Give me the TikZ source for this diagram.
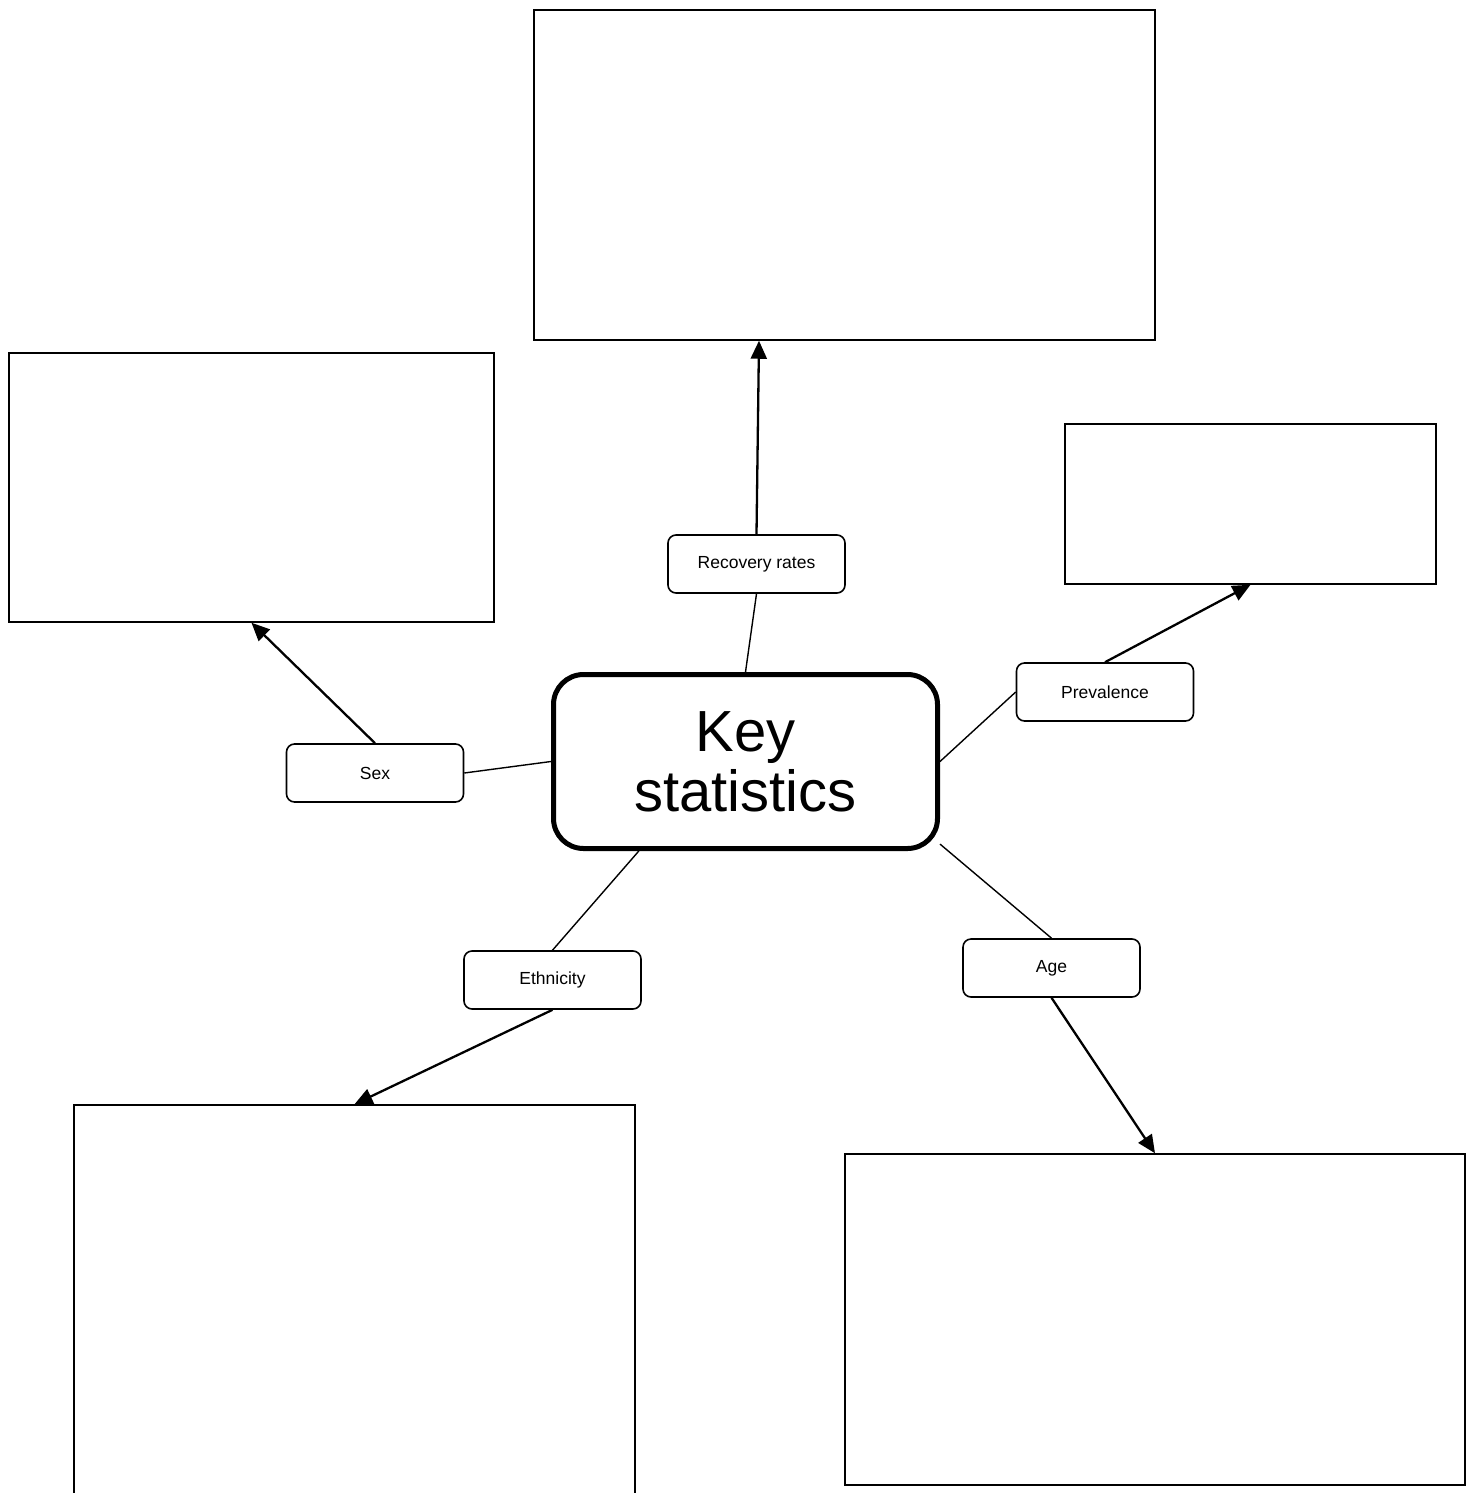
\documentclass[tikz,border=0pt]{standalone}
\usepackage{fontspec}
\setmainfont{Liberation Sans}
\usetikzlibrary{arrows.meta,calc}
\begin{document}
\begin{tikzpicture}[x=1pt,y=-1pt,
  bigbox/.style={draw,line width=1.5pt,rectangle,inner sep=0pt},
  keybox/.style={draw,line width=5pt,rectangle,rounded corners=30pt,inner sep=0pt,
    minimum width=384pt,minimum height=174pt,align=center,
    font=\fontsize{58}{60}\selectfont},
  lblbox/.style={draw,line width=1.6pt,rectangle,rounded corners=8pt,inner sep=0pt,
    minimum width=177pt,minimum height=58pt,font=\fontsize{17.5}{19}\selectfont},
  thin/.style={line width=1.4pt},
  arr/.style={line width=2.3pt,-{Triangle[length=18pt,width=16pt]}}]
\clip (0,0) rectangle (1472,1493);
\fill[white] (0,0) rectangle (1472,1493);
% outer boxes
\node[bigbox,minimum width=621pt,minimum height=330pt] (top) at (844.5,175) {};
\node[bigbox,minimum width=485pt,minimum height=269pt] (left) at (251.5,487.5) {};
\node[bigbox,minimum width=371pt,minimum height=160pt] (prevbox) at (1250.5,504) {};
\node[bigbox,minimum width=561pt,minimum height=410pt] (bl) at (354.5,1310) {};
\node[bigbox,minimum width=620pt,minimum height=331pt] (br) at (1155,1319.5) {};
% centre
\node[keybox] (key) at (745.5,761.5) {Key\\statistics};
% labels
\node[lblbox] (rec) at (756.5,564) {Recovery rates};
\node[lblbox] (prev) at (1105,692) {Prevalence};
\node[lblbox] (sex) at (375,773) {Sex};
\node[lblbox] (eth) at (552.5,980) {Ethnicity};
\node[lblbox] (age) at (1051.5,968) {Age};
% thin connectors
\draw[thin] (key.north) -- (rec.south);
\draw[thin] (key.east) -- (prev.west);
\draw[thin] (sex.east) -- (key.west);
\draw[thin] (key.220) -- (eth.north);
\draw[thin] (key.-23.5) -- (age.north);
% arrows
\draw[arr] (rec.north) -- ([xshift=-85.5pt]top.south);
\draw[arr] (prev.north) -- (prevbox.south);
\draw[arr] (sex.north) -- (left.south);
\draw[arr] (eth.south) -- (bl.north);
\draw[arr] (age.south) -- (br.north);
\end{tikzpicture}
\end{document}
